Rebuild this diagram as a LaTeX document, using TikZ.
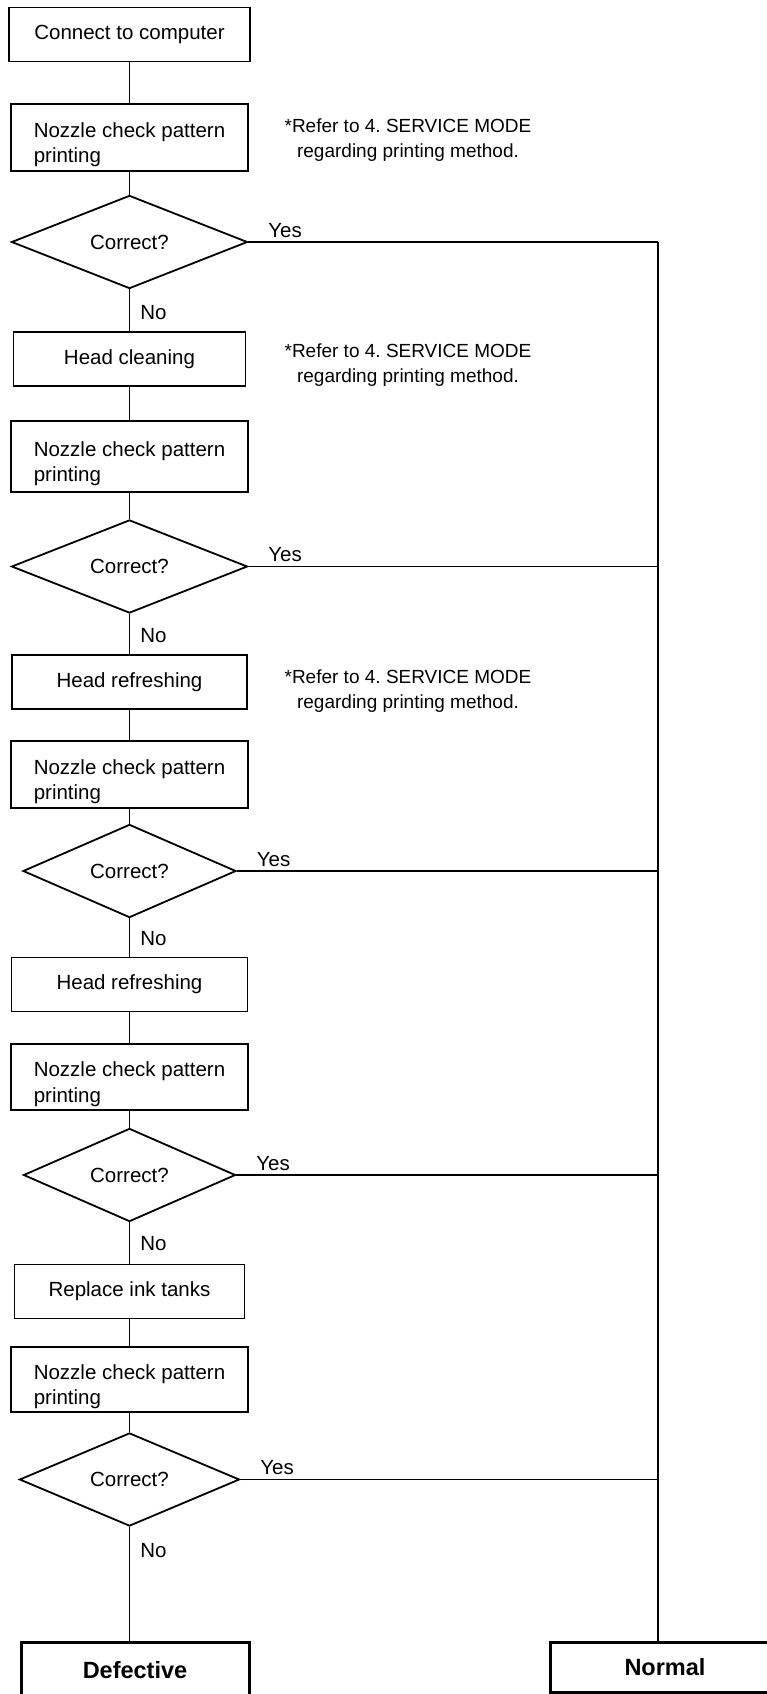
\documentclass[tikz,border=0pt]{standalone}
\usepackage{fontspec}
\setmainfont{Liberation Sans}
\usetikzlibrary{shapes.geometric}
\frenchspacing

\newcommand{\nozzleText}{\rule{0pt}{29pt}Nozzle check pattern\\printing}
\newcommand{\noteText}{*Refer to 4. SERVICE MODE\\regarding printing method.}

\begin{document}
\begin{tikzpicture}
[x=1pt,y=-1pt,%
  lineDecorate/.style={-,line width=1.8pt},%
  boxDecorate/.style={shape=rectangle,draw,line width=1.8pt,minimum height=54pt,font=\fontsize{20.5}{25.5}\selectfont},%
  nozzleDecorate/.style={shape=rectangle,draw,line width=1.8pt,align=left,minimum width=237pt,inner xsep=22pt,inner ysep=2pt,font=\fontsize{20.5}{25.5}\selectfont},%
  checkDecorate/.style={shape=diamond,draw,line width=1.8pt,inner sep=0pt,minimum height=71pt,font=\fontsize{20.5}{25.5}\selectfont},%
  endDecorate/.style={shape=rectangle,draw,line width=3pt,minimum height=50pt,font=\fontsize{23.5}{28}\selectfont\bfseries},%
  noteDecorate/.style={align=center,inner sep=0pt,font=\fontsize{19}{25}\selectfont},%
  yesDecorate/.style={anchor=base west,xshift=19pt,yshift=5pt,inner sep=0pt,font=\fontsize{20.5}{25.5}\selectfont},%
  noDecorate/.style={anchor=west,xshift=10pt,inner sep=0pt,font=\fontsize{20.5}{25.5}\selectfont}]
\path[use as bounding box,clip] (0,0) rectangle (767,1694);
%% boxes
\foreach \nodename/\y/\w/\txt in {connect/34.5/241/Connect to computer, hclean/359/232/Head cleaning, hrefrA/682/235/Head refreshing, hrefrB/984.5/236/Head refreshing, replace/1291.5/230/Replace ink tanks}
{
  \node (\nodename) at (129.5,\y) [boxDecorate,minimum width=\w pt] {\txt};
}
%% nozzle checks
\foreach \nodename/\y/\h in {nozA/137.5/67, nozB/456.5/71, nozC/774.5/67, nozD/1077/66, nozE/1379.5/65}
{
  \node (\nodename) at (129.5,\y) [nozzleDecorate,minimum height=\h pt] {\nozzleText};
}
%% decisions
\foreach \nodename/\y/\w in {chkA/242/236, chkB/566.5/236, chkC/871/213, chkD/1175/212, chkE/1479.5/220}
{
  \node (\nodename) at (129.5,\y) [checkDecorate,minimum width=\w pt] {Correct?};
}
%% notes
\foreach \nodename/\y in {noteA/140, noteB/365, noteC/691}
{
  \node (\nodename) at (408,\y) [noteDecorate] {\noteText};
}
%% results
\node (defective) at (135,1670) [endDecorate,minimum width=228pt,minimum height=56pt] {Defective};
\node (normal) at (665,1667) [endDecorate,minimum width=230pt] {Normal};
\coordinate (rail) at (658,242);
%% edges or lines
\path
\foreach \startnode/\endnode in {connect/nozA, nozA/chkA, hclean/nozB, nozB/chkB, hrefrA/nozC, nozC/chkC, hrefrB/nozD, nozD/chkD, replace/nozE, nozE/chkE}
{
  (\startnode) edge[lineDecorate] (\endnode)
};
\path
\foreach \startnode/\endnode/\p in {chkA/hclean/0.55, chkB/hrefrA/0.55, chkC/hrefrB/0.53, chkD/replace/0.52}
{
  (\startnode) edge[lineDecorate] node[noDecorate,pos=\p] {No} (\endnode)
};
\path (chkE) edge[lineDecorate] node[noDecorate,pos=0.21] {No} (chkE.south |- defective.north);
\path
\foreach \startnode in {chkA, chkB, chkC, chkD, chkE}
{
  (\startnode.east) edge[lineDecorate] node[yesDecorate,pos=0] {Yes} (rail |- \startnode.east)
};
\draw[lineDecorate] (rail) -- (rail |- normal.north);
\end{tikzpicture}
\end{document}
